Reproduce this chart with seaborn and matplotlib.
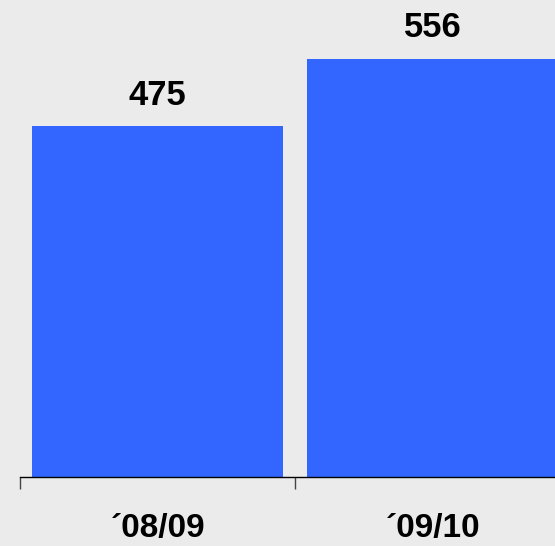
import matplotlib
matplotlib.use("Agg")
import matplotlib.pyplot as plt
import seaborn as sns
import pandas as pd

categories = ["\u00b408/09", "\u00b409/10"]
values = [475, 556]

BG = "#EBEBEB"
BAR = "#3366FF"

sns.set_theme(style="white")
plt.rcParams["font.family"] = ["Liberation Sans", "DejaVu Sans"]

fig = plt.figure(figsize=(5.55, 5.46), dpi=100, facecolor=BG)
ax = fig.add_axes([20 / 555, 69 / 546, 535 / 555, 477 / 546])
ax.set_facecolor(BG)

df = pd.DataFrame({"season": categories, "value": values})
sns.barplot(data=df, x="season", y="value", color=BAR, saturation=1,
            width=0.91, linewidth=0, ax=ax)

ax.set_xlim(-0.5, 1.445)
ax.set_ylim(56, 626)

for s in ["left", "right", "top"]:
    ax.spines[s].set_visible(False)
ax.spines["bottom"].set_color("black")
ax.spines["bottom"].set_linewidth(1)

ax.set_xticks([-0.5, 0.5])
ax.set_xticklabels(["", ""])
ax.tick_params(axis="x", direction="out", length=8.6, width=1, color="#444444", bottom=True)
ax.set_yticks([])
ax.set_xlabel("")
ax.set_ylabel("")

for i, (c, v) in enumerate(zip(categories, values)):
    ax.annotate(str(v), xy=(i, v), xytext=(0, 15.5), textcoords="offset points",
                ha="center", va="baseline", fontsize=25, fontweight="bold", color="black")
    ax.text(i, -60 / 477, c, transform=ax.get_xaxis_transform(), ha="center",
            va="baseline", fontsize=24, fontweight="bold", color="black")

fig.savefig("out.png", dpi=100, facecolor=BG)
